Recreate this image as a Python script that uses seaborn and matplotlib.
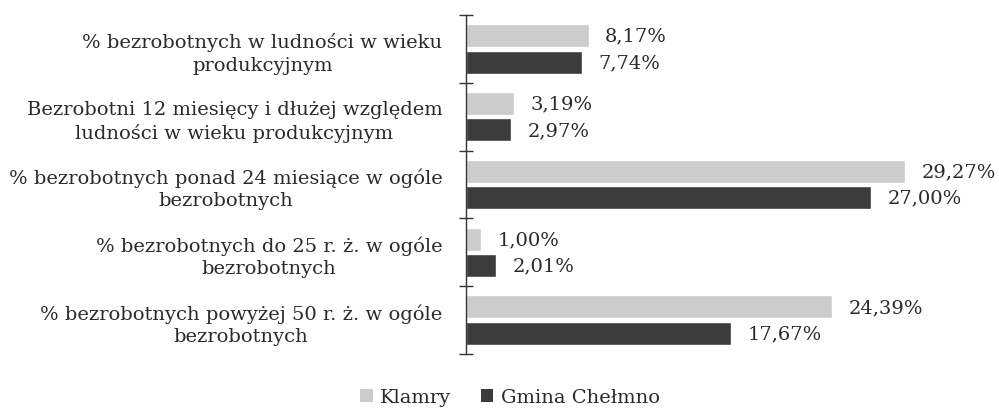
import matplotlib
matplotlib.use("Agg")
import matplotlib.pyplot as plt
import seaborn as sns
import pandas as pd
import numpy as np
from matplotlib.patches import Patch

categories = [
    "% bezrobotnych w ludności w wieku\nprodukcyjnym",
    "Bezrobotni 12 miesięcy i dłużej względem\nludności w wieku produkcyjnym",
    "% bezrobotnych ponad 24 miesiące w ogóle\nbezrobotnych",
    "% bezrobotnych do 25 r. ż. w ogóle\nbezrobotnych",
    "% bezrobotnych powyżej 50 r. ż. w ogóle\nbezrobotnych",
]
series_names = ["Klamry", "Gmina Chełmno"]
klamry = [8.17, 3.19, 29.27, 1.00, 24.39]
chelmno = [7.74, 2.97, 27.00, 2.01, 17.67]
colors = ["#cccccc", "#3c3c3c"]

df = pd.DataFrame({
    "kategoria": categories * 2,
    "seria": [series_names[0]] * len(categories) + [series_names[1]] * len(categories),
    "wartosc": klamry + chelmno,
})

sns.set_theme(style="white")
plt.rcParams["font.family"] = ["DejaVu Serif"]

fig = plt.figure(figsize=(9.99, 4.14), dpi=100)
ax = fig.add_axes([466 / 999, (414 - 355) / 414, (991 - 466) / 999, (355 - 16) / 414])

sns.barplot(data=df, y="kategoria", x="wartosc", hue="seria", order=categories,
            hue_order=series_names, palette=colors, orient="h",
            width=0.78, gap=0.13, ax=ax, legend=False, saturation=1)

for cont in ax.containers:
    vals = cont.datavalues
    ax.bar_label(cont, labels=[f"{v:.2f}".replace(".", ",") + "%" for v in vals],
                 padding=12, fontsize=14, color="#2a2a2a")

ax.set_xlim(0, 35)
ax.set_ylim(len(categories) - 0.5, -0.5)
ax.set_xlabel("")
ax.set_ylabel("")
ax.set_xticks([])
for s in ["top", "right", "bottom"]:
    ax.spines[s].set_visible(False)
ax.spines["left"].set_color("#333333")
ax.spines["left"].set_linewidth(1.0)

ax.set_yticks(np.arange(-0.5, len(categories), 1.0), minor=True)
ax.tick_params(axis="y", which="minor", left=True, direction="inout", length=10, width=1,
               color="#333333")
ax.tick_params(axis="y", which="major", left=True, length=0, pad=17, labelsize=14,
               labelcolor="#2a2a2a")
for lbl in ax.get_yticklabels():
    lbl.set_multialignment("center")
    lbl.set_linespacing(1.3)

handles = [Patch(facecolor=c, edgecolor="none") for c in colors]
fig.legend(handles, series_names, loc="center", bbox_to_anchor=(510 / 999, 1 - 398 / 414),
           ncol=2, frameon=False, fontsize=14, handlelength=0.65, handleheight=0.65,
           handletextpad=0.4, columnspacing=1.5, labelcolor="#2a2a2a")

fig.savefig("out.png", dpi=100)
